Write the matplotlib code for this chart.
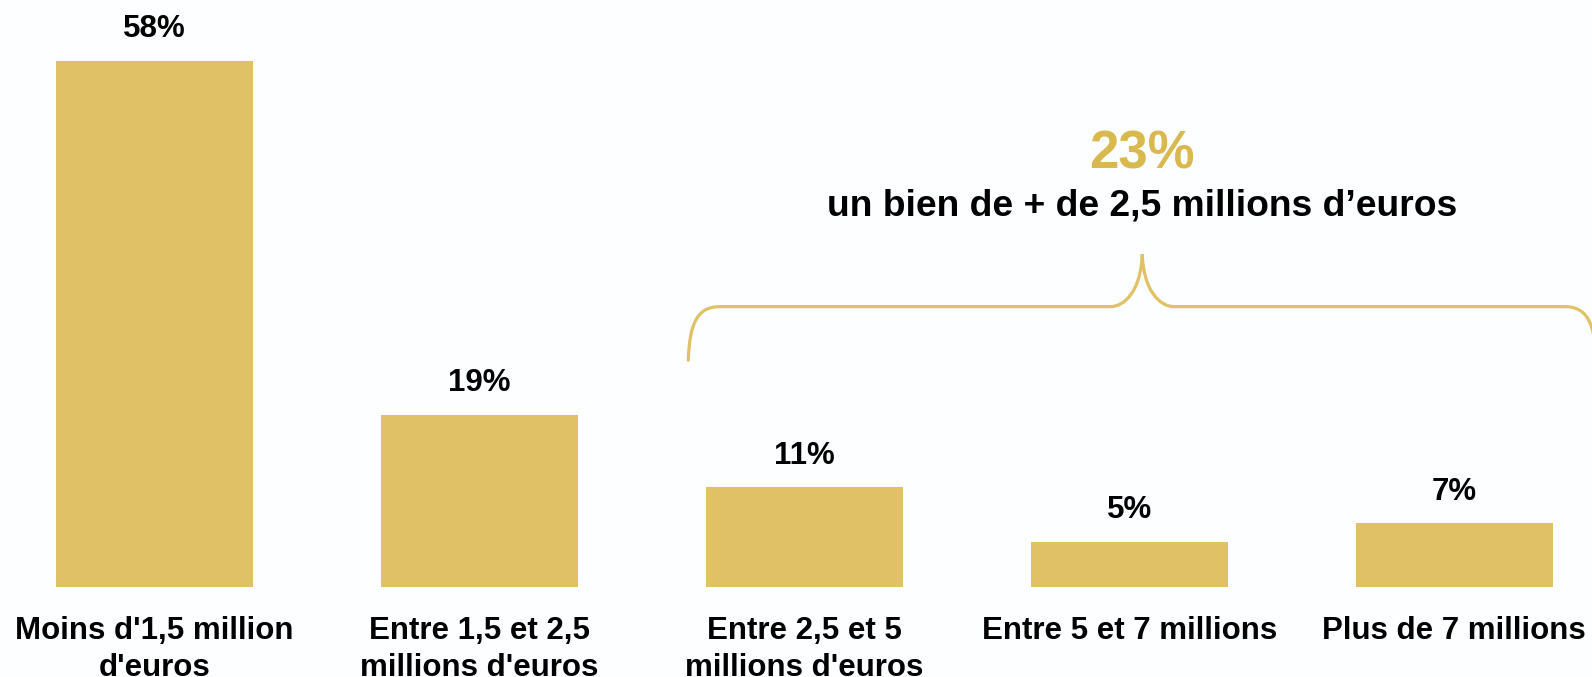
import matplotlib
matplotlib.use("Agg")
import matplotlib.pyplot as plt
from matplotlib.path import Path
from matplotlib.patches import PathPatch

categories = ["Moins d'1,5 million\nd'euros", "Entre 1,5 et 2,5\nmillions d'euros",
              "Entre 2,5 et 5\nmillions d'euros", "Entre 5 et 7 millions",
              "Plus de 7 millions"]
values = [58, 19, 11, 5, 7]
value_labels = ["58%", "19%", "11%", "5%", "7%"]
group_total = "23%"
group_text = "un bien de + de 2,5 millions d\u2019euros"

BAR = "#E0C166"
GOLD = "#D9B84E"
BG = "#FCFEFF"

plt.rcParams['font.family'] = ['Liberation Sans', 'DejaVu Sans']

W, H = 1592, 677
fig = plt.figure(figsize=(W / 100, H / 100), dpi=100, facecolor=BG)
ax = fig.add_axes([0, 90 / H, 1, 1 - 90 / H])
ax.set_facecolor(BG)

x = list(range(len(values)))
ax.bar(x, values, width=0.606, color=BAR)
ax.set_xlim(-0.475, 4.424)
ax.set_ylim(0, 64.7)

for xi, v, lab in zip(x, values, value_labels):
    ax.annotate(lab, (xi, v), xytext=(0, 16.8), textcoords='offset points',
                ha='center', va='baseline', fontsize=22.5, fontweight='bold',
                color='black')

ax.set_xticks(x)
ax.set_xticklabels(categories, fontsize=22.5, fontweight='bold', linespacing=1.3)
ax.tick_params(axis='x', length=0, pad=21)
ax.set_yticks([])
for s in ax.spines.values():
    s.set_visible(False)

# brace over the last three bars
x0, xm = 1.643, 3.04
x1 = 2 * xm - x0
ye, yh, yt = 25.0, 30.9, 36.7
cw, tw = 0.097, 0.098
verts = [
    (x0, ye), (x0 + 0.004, 29.2), (x0 + 0.03, yh), (x0 + cw, yh),
    (xm - tw, yh),
    (xm - 0.055, yh), (xm - 0.004, 32.6), (xm, yt),
    (xm + 0.004, 32.6), (xm + 0.055, yh), (xm + tw, yh),
    (x1 - cw, yh),
    (x1 - 0.03, yh), (x1 - 0.004, 29.2), (x1, ye),
]
codes = [Path.MOVETO, Path.CURVE4, Path.CURVE4, Path.CURVE4,
         Path.LINETO,
         Path.CURVE4, Path.CURVE4, Path.CURVE4,
         Path.CURVE4, Path.CURVE4, Path.CURVE4,
         Path.LINETO,
         Path.CURVE4, Path.CURVE4, Path.CURVE4]
ax.add_patch(PathPatch(Path(verts, codes), facecolor='none', edgecolor=BAR,
                       lw=2.3, clip_on=False, capstyle='round'))

ax.text(xm, 46.1, group_total, ha='center', va='baseline', fontsize=38,
        fontweight='bold', color=GOLD)
ax.text(xm, 40.9, group_text, ha='center', va='baseline', fontsize=26.8,
        fontweight='bold', color='black')

fig.savefig("out.png", dpi=100, facecolor=BG)
